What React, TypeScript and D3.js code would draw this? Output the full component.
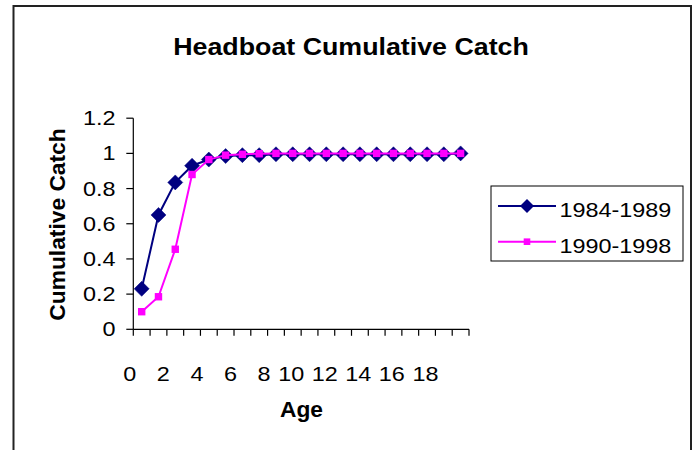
import React from "react";
import * as d3 from "d3";

// ---- data ----
const categories = d3.range(0, 20); // 20 age classes, plotted at category centres
const seriesNames = ["1984-1989", "1990-1998"];
const series1984 = [0.23, 0.65, 0.835, 0.93, 0.965, 0.985, 0.99, 0.99, 0.995, 0.995, 0.995, 0.995, 0.995, 0.995, 0.995, 0.995, 0.995, 0.995, 0.995, 1.0];
const series1990 = [0.1, 0.185, 0.455, 0.88, 0.965, 0.99, 0.995, 0.998, 1, 1, 1, 1, 1, 1, 1, 1, 1, 1, 1, 1];
const xTickLabels = [0, 2, 4, 6, 8, 10, 12, 14, 16, 18];
const yTicks = [0, 0.2, 0.4, 0.6, 0.8, 1, 1.2];

const FONT = "'Liberation Sans', Arial, sans-serif";
const NAVY = "#000080";
const PINK = "#FF00FF";

function SText({ x, y, sx = 1.2, anchor = "start", size = 19.5, bold = false, rotate = 0, children }: any) {
  return (
    <text
      transform={`translate(${x},${y}) rotate(${rotate}) scale(${sx},1)`}
      textAnchor={anchor}
      fontFamily={FONT}
      fontSize={size}
      fontWeight={bold ? "bold" : "normal"}
      fill="#000"
    >
      {children}
    </text>
  );
}

export default function App() {
  const x = d3.scaleLinear().domain([0, 20]).range([133.3, 469]);
  const y = d3.scaleLinear().domain([0, 1.2]).range([329.3, 118.2]);
  const line = d3
    .line<number>()
    .x((_, i) => x(categories[i] + 0.5))
    .y((d) => y(d));

  const diamond = (cx: number, cy: number, r: number) =>
    `M${cx},${cy - r}L${cx + r},${cy}L${cx},${cy + r}L${cx - r},${cy}Z`;

  return (
    <svg
      width={699}
      height={450}
      style={{ position: "absolute", left: 0, top: 0, background: "#fff" }}
    >
      <rect x={0} y={0} width={699} height={450} fill="#fff" />
      {/* outer chart border */}
      <rect x={13.5} y={6} width={677.5} height={470} fill="none" stroke="#222" strokeWidth={2} />

      {/* title */}
      <SText x={351} y={55} anchor="middle" size={23.5} bold sx={1.14}>
        Headboat Cumulative Catch
      </SText>

      {/* y axis */}
      <line x1={x(0)} x2={x(0)} y1={y(1.2)} y2={y(0)} stroke="#000" strokeWidth={1.2} />
      {yTicks.map((t) => (
        <g key={t}>
          <line x1={x(0) - 7} x2={x(0)} y1={y(t)} y2={y(t)} stroke="#000" strokeWidth={1.2} />
          <SText x={115.5} y={y(t) + 7} anchor="end">
            {String(t)}
          </SText>
        </g>
      ))}

      {/* x axis */}
      <line x1={x(0)} x2={x(20)} y1={y(0)} y2={y(0)} stroke="#000" strokeWidth={1.2} />
      {d3.range(0, 21).map((t) => (
        <line key={t} x1={x(t)} x2={x(t)} y1={y(0)} y2={y(0) + 6.5} stroke="#000" strokeWidth={1.2} />
      ))}
      {xTickLabels.map((t) => (
        <SText key={t} x={x(t) + 3} y={380.5} anchor="end">
          {String(t)}
        </SText>
      ))}

      {/* axis titles */}
      <SText x={301.5} y={417} anchor="middle" size={21.5} bold sx={1.06}>
        Age
      </SText>
      <SText x={65} y={224.5} anchor="middle" size={21.5} bold sx={1.06} rotate={-90}>
        Cumulative Catch
      </SText>

      {/* series 1984-1989 */}
      <path d={line(series1984) || ""} fill="none" stroke={NAVY} strokeWidth={2} />
      {series1984.map((v, i) => (
        <path key={i} d={diamond(x(categories[i] + 0.5), y(v), 7.5)} fill={NAVY} stroke={NAVY} strokeWidth={0.5} />
      ))}

      {/* series 1990-1998 */}
      <path d={line(series1990) || ""} fill="none" stroke={PINK} strokeWidth={2} />
      {series1990.map((v, i) => (
        <rect key={i} x={x(categories[i] + 0.5) - 3.7} y={y(v) - 3.7} width={7.4} height={7.4} fill={PINK} />
      ))}

      {/* legend */}
      <rect x={491} y={186} width={192} height={75} fill="#fff" stroke="#000" strokeWidth={1} />
      <line x1={498} x2={556} y1={206} y2={206} stroke={NAVY} strokeWidth={2} />
      <path d={diamond(527, 206, 7)} fill={NAVY} />
      <SText x={559.5} y={216.5}>{seriesNames[0]}</SText>
      <line x1={498} x2={556} y1={241.7} y2={241.7} stroke={PINK} strokeWidth={2} />
      <rect x={523.7} y={238.4} width={6.6} height={6.6} fill={PINK} />
      <SText x={559.5} y={253}>{seriesNames[1]}</SText>
    </svg>
  );
}
